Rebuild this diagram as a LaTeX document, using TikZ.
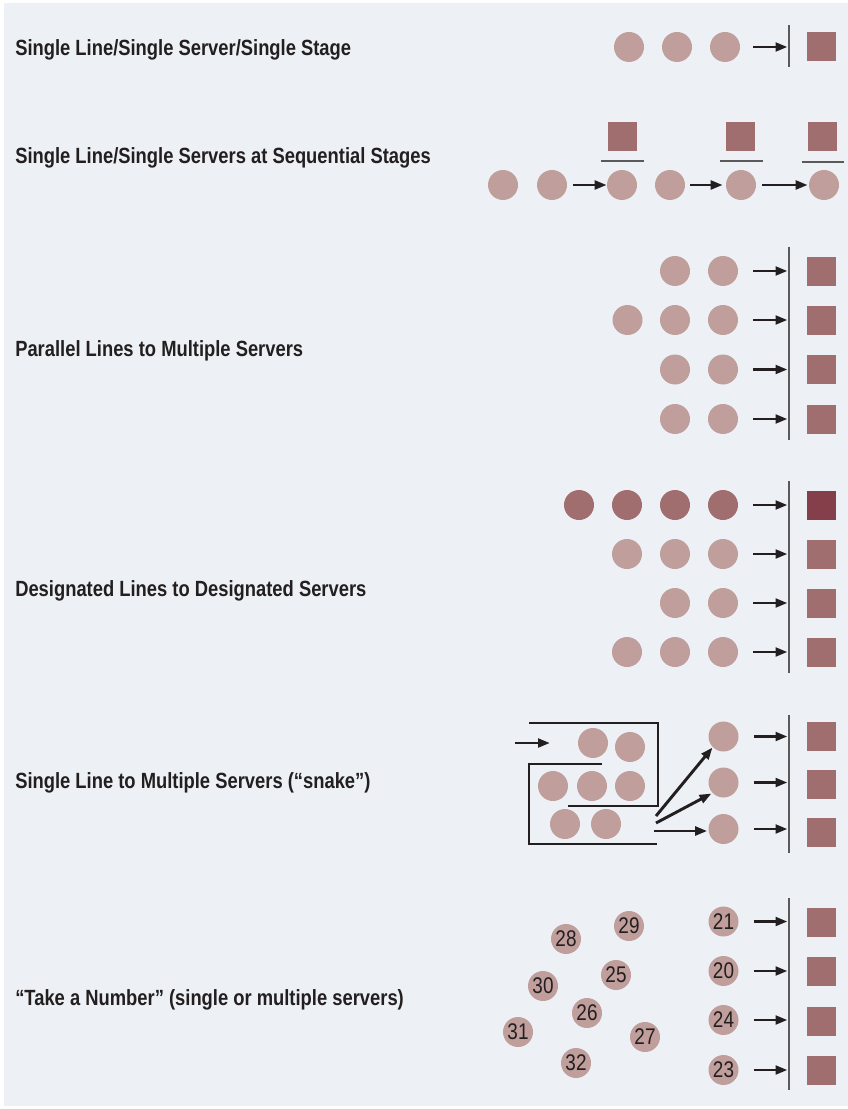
\documentclass[tikz,border=0pt]{standalone}
\usepackage{fontspec}
\setmainfont{Liberation Sans}[FakeStretch=0.835]
\usetikzlibrary{arrows.meta,calc}
\definecolor{bgc}{HTML}{EDF1F5}
\definecolor{circc}{HTML}{C09E9C}
\definecolor{sqc}{HTML}{A06E6E}
\definecolor{dsqc}{HTML}{843F4A}
\definecolor{barc}{HTML}{5A5A5A}
\definecolor{arrc}{HTML}{231F20}
\definecolor{txtc}{HTML}{231F20}
\begin{document}
\begin{tikzpicture}[x=0.75pt,y=-0.75pt,
  cust/.style={circle,fill=circc,minimum size=22.5pt,inner sep=0pt,draw=none},
  dcust/.style={cust,fill=sqc},
  srv/.style={rectangle,fill=sqc,minimum size=21.75pt,inner sep=0pt,draw=none},
  dsrv/.style={srv,fill=dsqc},
  arr/.style={draw=arrc,line width=2.2pt,-{Triangle[length=9pt,width=6.5pt]}},
  bar/.style={draw=barc,line width=1.5pt},
  hline/.style={draw=barc,line width=1.5pt},
  snk/.style={draw=arrc,line width=1.1pt},
  lbl/.style={anchor=base west,font=\bfseries\fontsize{16.5}{18}\selectfont,inner sep=0pt,text=txtc},
  num/.style={cust,font=\fontsize{17}{18}\selectfont,text=txtc}]
\useasboundingbox (0,0) rectangle (848,1109);
\fill[bgc] (4,3) rectangle (848,1106);

% ---------- Row 1
\node[lbl] (l1) at (15,56) {Single Line/Single Server/Single Stage};
\node[cust] (r1c1) at (629,47) {};
\node[cust] (r1c2) at (677,47) {};
\node[cust] (r1c3) at (725,47) {};
\node[srv] (r1s) at (821.5,46.5) {};
\coordinate (r1bt) at (789,25);
\coordinate (r1bb) at (789,67);
\draw[bar] (r1bt) -- (r1bb);
\draw[arr] ($(r1c3.east)+(13,0)$) -- ($(r1bt |- r1c3)+(-1.5,0)$);

% ---------- Row 2
\node[lbl] (l2) at (15,164) {Single Line/Single Servers at Sequential Stages};
\node[cust] (r2c1) at (503,185) {};
\node[cust] (r2c2) at (552,185) {};
\node[cust] (r2c3) at (622,185) {};
\node[cust] (r2c4) at (670,185) {};
\node[cust] (r2c5) at (741,185) {};
\node[cust] (r2c6) at (824,185) {};
\node[srv] (r2s1) at (622.5,136.5) {};
\node[srv] (r2s2) at (740.5,136.5) {};
\node[srv] (r2s3) at (822.5,136.5) {};
\draw[hline] ($(r2s1.south)+(-21.5,10)$) -- ($(r2s1.south)+(21.5,10)$);
\draw[hline] ($(r2s2.south)+(-20.5,10)$) -- ($(r2s2.south)+(22.5,10)$);
\draw[hline] ($(r2s3.south)+(-20.5,11)$) -- ($(r2s3.south)+(21.5,11)$);
\draw[arr] ($(r2c2.east)+(6,0)$) -- ($(r2c3.west)+(0,0)$);
\draw[arr] ($(r2c4.east)+(5,0)$) -- ($(r2c5.west)+(-3,0)$);
\draw[arr] ($(r2c5.east)+(6,0)$) -- ($(r2c6.west)+(-1,0)$);

% ---------- Row 3
\node[lbl] (l3) at (15,356) {Parallel Lines to Multiple Servers};
\coordinate (r3bt) at (789,247);
\coordinate (r3bb) at (789,440);
\draw[bar] (r3bt) -- (r3bb);
\foreach \i/\yy in {1/271,2/320,3/369.5,4/419}{
  \node[cust] (r3a\i) at (675,\yy) {};
  \node[cust] (r3b\i) at (723,\yy) {};
  \node[srv] (r3s\i) at (821.5,\yy) {};
  \draw[arr] ($(r3b\i.east)+(15,0)$) -- ($(r3bt |- r3b\i)+(-1.5,0)$);
}
\node[cust] (r3x) at (627.5,320) {};

% ---------- Row 4
\node[lbl] (l4) at (15,596) {Designated Lines to Designated Servers};
\coordinate (r4bt) at (789,481);
\coordinate (r4bb) at (789,673);
\draw[bar] (r4bt) -- (r4bb);
\node[dcust] (r4d1) at (579,505) {};
\node[dcust] (r4d2) at (627,505) {};
\node[dcust] (r4d3) at (675,505) {};
\node[dcust] (r4d4) at (723,505) {};
\node[dsrv] (r4s1) at (821.5,505.5) {};
\draw[arr] ($(r4d4.east)+(15,0)$) -- ($(r4bt |- r4d4)+(-1.5,0)$);
\foreach \i/\yy in {2/554,3/603,4/652}{
  \node[cust] (r4a\i) at (675,\yy) {};
  \node[cust] (r4b\i) at (723,\yy) {};
  \node[srv] (r4s\i) at (821.5,\yy) {};
  \draw[arr] ($(r4b\i.east)+(15,0)$) -- ($(r4bt |- r4b\i)+(-1.5,0)$);
}
\node[cust] (r4x2) at (627,554) {};
\node[cust] (r4x4) at (627,652) {};

% ---------- Row 5
\node[lbl] (l5) at (15,788) {Single Line to Multiple Servers (“snake”)};
\coordinate (s1a) at (529,723);
\coordinate (s1b) at (658,723);
\coordinate (s1c) at (658,806);
\coordinate (s1d) at (568,806);
\draw[snk] (s1a) -- (s1b) -- (s1c) -- (s1d);
\coordinate (s2a) at (602,764);
\coordinate (s2b) at (529,764);
\coordinate (s2c) at (529,844);
\coordinate (s2d) at (657,844);
\draw[snk] (s2a) -- (s2b) -- (s2c) -- (s2d);
\coordinate (ein) at (515,743);
\coordinate (eout) at (550,743);
\draw[arr] (ein) -- (eout);
\node[cust] (q1) at (593,743) {};
\node[cust] (q2) at (630,747) {};
\node[cust] (q3) at (553,786) {};
\node[cust] (q4) at (592,786) {};
\node[cust] (q5) at (630,786) {};
\node[cust] (q6) at (565,824) {};
\node[cust] (q7) at (606,824) {};
\coordinate (o1) at (656,816);
\coordinate (o2) at (656,823);
\coordinate (o3) at (654,831);
\node[cust] (p1) at (723.5,736.5) {};
\node[cust] (p2) at (723.5,782.5) {};
\node[cust] (p3) at (723.5,829) {};
\draw[arr] (o1) -- ($(p1)+(-11,11)$);
\draw[arr] (o2) -- ($(p2)+(-12,11)$);
\draw[arr] (o3) -- ($(p3.west |- o3)+(-1,0)$);
\coordinate (r5bt) at (789,715);
\coordinate (r5bb) at (789,853);
\draw[bar] (r5bt) -- (r5bb);
\node[srv] (r5s1) at (821.5,736.5) {};
\node[srv] (r5s2) at (821.5,784) {};
\node[srv] (r5s3) at (821.5,832) {};
\foreach \p in {p1,p2,p3}{
  \draw[arr] ($(\p.east)+(15,0)$) -- ($(r5bt |- \p)+(-1.5,0)$);
}

% ---------- Row 6
\node[lbl] (l6) at (15,1005) {“Take a Number” (single or multiple servers)};
\node[num] (n28) at (566,939) {28};
\node[num] (n29) at (629,926) {29};
\node[num] (n30) at (543,986) {30};
\node[num] (n25) at (616,975) {25};
\node[num] (n26) at (587,1013) {26};
\node[num] (n31) at (518,1032) {31};
\node[num] (n27) at (645,1037) {27};
\node[num] (n32) at (576,1063) {32};
\coordinate (r6bt) at (789,898);
\coordinate (r6bb) at (789,1090);
\draw[bar] (r6bt) -- (r6bb);
\foreach \n/\yy/\sy in {21/921.5/922.5,20/971/971.3,24/1020/1021.3,23/1070/1070.3}{
  \node[num] (n\n) at (723.5,\yy) {\n};
  \node[srv] (r6s\n) at (821.5,\sy) {};
  \draw[arr] ($(n\n.east)+(15,0)$) -- ($(r6bt |- n\n)+(-1.5,0)$);
}
\end{tikzpicture}
\end{document}
